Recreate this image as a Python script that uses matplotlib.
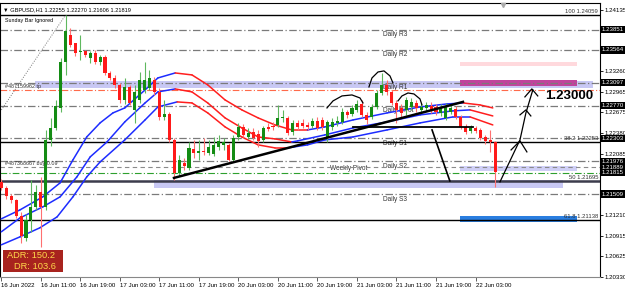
import matplotlib
matplotlib.use("Agg")
import matplotlib.pyplot as plt
from matplotlib.patches import Rectangle
import numpy as np

# GBPUSD H1 candles, first bar = 16 Jun 03:00
opens = [1.21684, 1.21598, 1.21485, 1.21428, 1.21200, 1.20888, 1.21144, 1.21328, 1.21542, 1.21328,
         1.22282, 1.22452, 1.22737, 1.23392, 1.23776, 1.23662, 1.23534, 1.23548, 1.23449, 1.23520,
         1.23392, 1.23463, 1.23235, 1.23164, 1.23065, 1.22851, 1.23036, 1.22709, 1.22851, 1.22993,
         1.23022, 1.23136, 1.22965, 1.22609, 1.22652, 1.22282, 1.21812, 1.21954, 1.21883, 1.22154,
         1.22097, 1.22125, 1.22097, 1.22082, 1.22182, 1.22211, 1.22211, 1.21997, 1.22324, 1.22467,
         1.22324, 1.22396, 1.22367, 1.22282, 1.22467, 1.22481, 1.22495, 1.22595, 1.22595, 1.22396,
         1.22524, 1.22524, 1.22495, 1.22481, 1.22552, 1.22566, 1.22310, 1.22467, 1.22524, 1.22538,
         1.22680, 1.22652, 1.22709, 1.22794, 1.22638, 1.22609, 1.22751, 1.22950, 1.23065, 1.22965,
         1.22808, 1.22737, 1.22709, 1.22751, 1.22808, 1.22709, 1.22737, 1.22766, 1.22751, 1.22666,
         1.22595, 1.22680, 1.22723, 1.22609, 1.22467, 1.22410, 1.22452, 1.22424, 1.22324, 1.22282,
         1.22255]
highs = [1.21727, 1.21627, 1.21513, 1.21442, 1.21257, 1.21229, 1.21713, 1.21641, 1.21755, 1.22424,
         1.22595, 1.22851, 1.23449, 1.24059, 1.23876, 1.23662, 1.23776, 1.23563, 1.23548, 1.23563,
         1.23491, 1.23491, 1.23264, 1.23207, 1.23093, 1.23164, 1.23065, 1.23065, 1.23249, 1.23392,
         1.23278, 1.23178, 1.23022, 1.22851, 1.22680, 1.22310, 1.22068, 1.22025, 1.22253, 1.22282,
         1.22282, 1.22310, 1.22282, 1.22324, 1.22353, 1.22310, 1.22239, 1.22353, 1.22524, 1.22509,
         1.22452, 1.22452, 1.22424, 1.22481, 1.22524, 1.22538, 1.22780, 1.22709, 1.22623, 1.22566,
         1.22566, 1.22581, 1.22538, 1.22595, 1.22609, 1.22609, 1.22566, 1.22595, 1.22623, 1.22737,
         1.22709, 1.22780, 1.22851, 1.22851, 1.22680, 1.22794, 1.22993, 1.23235, 1.23136, 1.22993,
         1.22851, 1.22794, 1.22894, 1.22879, 1.22851, 1.22808, 1.22823, 1.22823, 1.22794, 1.22794,
         1.22808, 1.22794, 1.22766, 1.22638, 1.22509, 1.22495, 1.22481, 1.22452, 1.22353, 1.22424,
         1.22270]
lows = [1.21570, 1.21442, 1.21385, 1.21172, 1.20816, 1.20845, 1.20973, 1.21286, 1.20759, 1.21286,
        1.22196, 1.22424, 1.22680, 1.23207, 1.23605, 1.23477, 1.23420, 1.23463, 1.23377, 1.23363,
        1.23349, 1.23207, 1.23136, 1.23022, 1.22808, 1.22794, 1.22780, 1.22524, 1.22808, 1.22950,
        1.22993, 1.22922, 1.22566, 1.22566, 1.22253, 1.21713, 1.21769, 1.21855, 1.21855, 1.22025,
        1.21997, 1.22068, 1.22068, 1.22054, 1.22139, 1.22139, 1.21983, 1.21983, 1.22282, 1.22324,
        1.22296, 1.22282, 1.22182, 1.22253, 1.22410, 1.22424, 1.22467, 1.22538, 1.22353, 1.22353,
        1.22424, 1.22452, 1.22424, 1.22452, 1.22424, 1.22424, 1.22253, 1.22424, 1.22481, 1.22509,
        1.22595, 1.22623, 1.22680, 1.22609, 1.22509, 1.22581, 1.22723, 1.22922, 1.22922, 1.22780,
        1.22524, 1.22609, 1.22638, 1.22709, 1.22680, 1.22666, 1.22695, 1.22666, 1.22638, 1.22623,
        1.22566, 1.22652, 1.22581, 1.22438, 1.22367, 1.22381, 1.22381, 1.22282, 1.22225, 1.22111,
        1.21606]
closes = [1.21598, 1.21485, 1.21428, 1.21200, 1.20916, 1.21144, 1.21328, 1.21542, 1.21328, 1.22282,
          1.22452, 1.22766, 1.23392, 1.23833, 1.23634, 1.23520, 1.23548, 1.23491, 1.23520, 1.23392,
          1.23463, 1.23235, 1.23164, 1.23065, 1.22851, 1.23036, 1.22808, 1.22965, 1.23136, 1.23136,
          1.23164, 1.22965, 1.22609, 1.22652, 1.22282, 1.21812, 1.21997, 1.21912, 1.22168, 1.22097,
          1.22125, 1.22111, 1.22182, 1.22211, 1.22268, 1.22253, 1.21997, 1.22310, 1.22467, 1.22353,
          1.22381, 1.22310, 1.22268, 1.22452, 1.22438, 1.22467, 1.22595, 1.22609, 1.22381, 1.22524,
          1.22467, 1.22481, 1.22467, 1.22552, 1.22452, 1.22467, 1.22538, 1.22538, 1.22552, 1.22680,
          1.22638, 1.22737, 1.22794, 1.22638, 1.22566, 1.22751, 1.22950, 1.23065, 1.22965, 1.22808,
          1.22709, 1.22666, 1.22851, 1.22823, 1.22737, 1.22751, 1.22780, 1.22709, 1.22680, 1.22751,
          1.22751, 1.22737, 1.22609, 1.22467, 1.22396, 1.22452, 1.22410, 1.22310, 1.22268, 1.22253,
          1.21819]

tick_labels = ["16 Jun 2022", "16 Jun 11:00", "16 Jun 19:00", "17 Jun 03:00", "17 Jun 11:00",
               "17 Jun 19:00", "20 Jun 03:00", "20 Jun 11:00", "20 Jun 19:00", "21 Jun 03:00",
               "21 Jun 11:00", "21 Jun 19:00", "22 Jun 03:00"]

# envelope (upper / middle / lower) at some bars
upper_bars = [0, 3.8, 8.4, 11.9, 14.5, 17.3, 20, 22.6, 25, 29.1, 31.7, 35.2, 38.6, 41.8, 45.3, 48.7,
              52, 55.4, 58.8, 62, 65.5, 71.2, 78.1, 84.8, 90.2, 93.5, 96.9, 99.5]
upper_vals = [1.21158, 1.21286, 1.21471, 1.21670, 1.21997, 1.22324, 1.22524, 1.22666, 1.22737,
              1.22993, 1.23164, 1.23235, 1.23207, 1.23065, 1.22851, 1.22709, 1.22595, 1.22495,
              1.22424, 1.22424, 1.22467, 1.22566, 1.22666, 1.22751, 1.22794, 1.22808, 1.22780, 1.22737]
mid_bars = [0, 3.8, 8.4, 11.9, 15.3, 18, 21.4, 25, 29.1, 31.7, 35.2, 38.6, 41.8, 45.3, 48.7, 52,
            55.4, 58.8, 60, 65.5, 71.2, 78.1, 84.8, 91.4, 94.9, 99.5]
mid_vals = [1.20973, 1.21172, 1.21328, 1.21471, 1.21755, 1.22040, 1.22253, 1.22538, 1.22808, 1.22965,
            1.23008, 1.22965, 1.22808, 1.22595, 1.22452, 1.22324, 1.22296, 1.22253, 1.22268, 1.22353,
            1.22452, 1.22538, 1.22638, 1.22695, 1.22709, 1.22623]
lower_bars = [0, 3.8, 7.8, 11.3, 14.5, 17.3, 20, 25, 29.1, 31.7, 35.6, 38.6, 41.8, 45.3, 48.7, 52,
              55.4, 58, 62, 65.5, 71.2, 78.1, 84.8, 91.4, 94.9, 99.5]
lower_vals = [1.20788, 1.20902, 1.21030, 1.21186, 1.21471, 1.21755, 1.21968, 1.22282, 1.22566, 1.22751,
              1.22823, 1.22808, 1.22666, 1.22467, 1.22324, 1.22211, 1.22168, 1.22168, 1.22211, 1.22282,
              1.22324, 1.22424, 1.22524, 1.22609, 1.22609, 1.22495]

pivot_names = ["Daily R3", "Daily R2", "Daily R1", "Daily Pivot", "Daily S1", "Daily S2", "Daily S3"]
pivot_vals = [1.23851, 1.23564, 1.23097, 1.22770, 1.22303, 1.21976, 1.21509]
fib_names = ["100", "38.2", "50", "61.8"]
fib_vals = [1.24059, 1.22253, 1.21695, 1.21138]
tp_price = 1.22990
buy_price = 1.21889
weekly_pivot = 1.21815

axis_ticks = [1.24135, 1.23260, 1.22965, 1.22675, 1.22380, 1.22085, 1.21210, 1.20915, 1.20625, 1.20330]
marked_prices = [1.23851, 1.23564, 1.23097, 1.22770, 1.22303, 1.21976, 1.21889, 1.21815, 1.21509]

# zones: left bar, right bar, low, high, colour
zone_left = [6.8, 92.8, 92.8, 92.8, 30.9, 92.8]
zone_right = [119.8, 116.5, 116.5, 116.5, 113.7, 116.5]
zone_low = [1.23022, 1.23050, 1.23335, 1.21841, 1.21599, 1.21115]
zone_high = [1.23122, 1.23136, 1.23392, 1.21912, 1.21713, 1.21200]
zone_colors = ["#c8c8f4", "#c0449c", "#ffd9dd", "#cfcff6", "#c8c8f4", "#2a7ee0"]

# hand drawn analysis lines (bar, price)
trend_bars = [34.96, 93.46]
trend_vals = [1.21741, 1.22823]
neck_bars = [71.2, 95.5]
neck_vals = [1.22467, 1.22467]
down_bars = [87.2, 90.8]
down_vals = [1.22424, 1.21698]
up_bars = [100.95, 105.0, 106.2, 107.6]
up_vals = [1.21684, 1.22282, 1.22666, 1.22993]
heads = [
    ([65.93, 67.15, 68.97, 70.99, 72.61, 73.22], [1.22737, 1.22837, 1.22908, 1.22922, 1.22879, 1.22808]),
    ([74.43, 75.04, 76.26, 77.47, 78.68, 79.29], [1.23036, 1.23164, 1.23249, 1.23264, 1.23193, 1.23093]),
    ([80.30, 81.11, 82.33, 83.54, 84.76, 85.16], [1.22837, 1.22908, 1.22950, 1.22936, 1.22865, 1.22780]),
]
arrow_heads = [
    ([103.2, 105.0, 106.4], [1.22139, 1.22268, 1.22111]),
    ([105.0, 106.2, 107.2], [1.22638, 1.22709, 1.22623]),
    ([106.0, 107.4, 108.6], [1.22894, 1.23008, 1.22908]),
]
fib_diag_bars = [-0.26, 13]
fib_diag_vals = [1.22680, 1.24059]

plt.rcParams["font.family"] = ["Liberation Sans", "DejaVu Sans"]
FS = 4.4
fig = plt.figure(figsize=(6.25, 2.9), dpi=100)
ax = fig.add_axes([0, 13 / 290, 600 / 625, 274 / 290])
ax.set_xlim(-0.26, 121.2)
ax.set_ylim(1.20332, 1.24231)

for l, r, lo, hi, c in zip(zone_left, zone_right, zone_low, zone_high, zone_colors):
    ax.add_patch(Rectangle((l, lo), r - l, hi - lo, facecolor=c, edgecolor="none", zorder=1))

for name, v in zip(pivot_names, pivot_vals):
    ax.axhline(v, color="#7a7a7a", lw=0.9, ls=(0, (6, 2, 1, 2)), zorder=2)
    ax.annotate(name, (77.3, v), xytext=(0, -1), textcoords="offset points",
                fontsize=4.7, color="#333333", va="top", ha="left", zorder=1.5)
for name, v in zip(fib_names, fib_vals):
    lw = 1.8 if name == "50" else 1.0
    col = "#3c3c4c" if name == "50" else "black"
    ax.axhline(v, color=col, lw=lw, zorder=2)
    ax.annotate(f"{name} {v:.5f}", (120.8, v), xytext=(0, 1), textcoords="offset points",
                fontsize=4.2, color="#333333", va="bottom", ha="right", zorder=6)
ax.axhline(tp_price, color="#ff6a4a", lw=0.8, ls=(0, (6, 2, 1, 2)), zorder=2)
ax.axhline(buy_price, color="#8a8a8a", lw=0.8, ls=(0, (4, 3)), zorder=2)
ax.axhline(weekly_pivot, color="#2ea02e", lw=0.8, ls=(0, (6, 2, 1, 2)), zorder=2)
ax.annotate("Weekly Pivot", (66.5, weekly_pivot), xytext=(0, 0.5), textcoords="offset points",
            fontsize=4.7, color="#333333", va="bottom", ha="left", zorder=1.5)

ax.plot(fib_diag_bars, fib_diag_vals, color="#777777", lw=0.7, ls=(0, (1, 1.5)), zorder=2)

# envelope lines, blue while rising and red while falling
for bx, vy in [(upper_bars, upper_vals), (mid_bars, mid_vals), (lower_bars, lower_vals)]:
    col = "#1d2cff"
    for i in range(len(bx) - 1):
        if vy[i + 1] > vy[i]:
            col = "#1d2cff"
        elif vy[i + 1] < vy[i]:
            col = "#ff1e1e"
        ax.plot(bx[i:i + 2], vy[i:i + 2], color=col, lw=1.1, solid_capstyle="round", zorder=3)

x = np.arange(len(opens))
o = np.array(opens)
c = np.array(closes)
up = c >= o
body_col = np.where(up, "#148c14", "#ff1a1a")
wick_col = np.where(up, "#5fb85f", "#ff7070")
ax.vlines(x, lows, highs, colors=wick_col, lw=0.8, zorder=4)
ax.bar(x, np.maximum(np.abs(c - o), 0.00004), bottom=np.minimum(o, c), width=0.62,
       color=body_col, zorder=5)

ax.plot(trend_bars, trend_vals, color="black", lw=1.8, zorder=6)
ax.plot(neck_bars, neck_vals, color="black", lw=1.3, zorder=6)
ax.plot(down_bars, down_vals, color="black", lw=1.2, zorder=6)
ax.plot(up_bars, up_vals, color="black", lw=0.9, zorder=6)
for hb, hv in heads + arrow_heads:
    ax.plot(hb, hv, color="black", lw=0.9, zorder=6)
ax.text(110.0, 1.22908, "1.23000", fontsize=9.5, fontweight="bold", va="center", ha="left", zorder=7)

# texts in the top-left corner and order labels
ax.text(0.005, 0.985, "\u25bc GBPUSD,H1 1.22255 1.22270 1.21606 1.21819", transform=ax.transAxes,
        fontsize=4.1, va="top", ha="left", zorder=7)
ax.text(0.008, 0.945, "Sunday Bar Ignored", transform=ax.transAxes, fontsize=3.9,
        va="top", ha="left", zorder=7)
ax.plot([0.838], [0.992], marker="v", ms=3, color="#aaaaaa", transform=ax.transAxes,
        clip_on=False, zorder=7)
ax.annotate("#487159962 tp", (0.8, tp_price), xytext=(0, 1), textcoords="offset points",
            fontsize=3.9, color="#333333", va="bottom", zorder=7)
ax.annotate("#487368667 buy 0.09", (0.8, buy_price), xytext=(0, 1), textcoords="offset points",
            fontsize=3.9, color="#333333", va="bottom", zorder=7)

# ADR box
ax.add_patch(Rectangle((3 / 600, 5 / 274), 60 / 600, 22 / 274, transform=ax.transAxes,
                       facecolor="#a8231e", edgecolor="none", zorder=8))
ax.text(7 / 600, 21 / 274, "ADR: 150.2", transform=ax.transAxes, fontsize=6.7, color="#ffd84a",
        va="center", ha="left", zorder=9)
ax.text(14 / 600, 10.5 / 274, "DR: 103.6", transform=ax.transAxes, fontsize=6.7, color="#ffd84a",
        va="center", ha="left", zorder=9)

# axes
ax.set_xticks(range(0, 97, 8))
ax.set_xticklabels(tick_labels, ha="left", fontsize=FS)
ax.tick_params(axis="x", length=3, width=0.6, pad=1, color="#444444")
ax.yaxis.tick_right()
ax.set_yticks(axis_ticks)
ax.set_yticklabels([f"{t:.5f}" for t in axis_ticks], fontsize=FS)
ax.tick_params(axis="y", length=2, width=0.6, pad=1)
for p in marked_prices:
    ax.text(1.003, p, f"{p:.5f}", transform=ax.get_yaxis_transform(), fontsize=FS, color="white",
            va="center", ha="left", zorder=10, clip_on=False,
            bbox=dict(boxstyle="square,pad=0.2", facecolor="black", edgecolor="none"))
for s in ax.spines.values():
    s.set_linewidth(0.8)
ax.spines["bottom"].set_color("#888888")

fig.savefig("out.png", dpi=100)
